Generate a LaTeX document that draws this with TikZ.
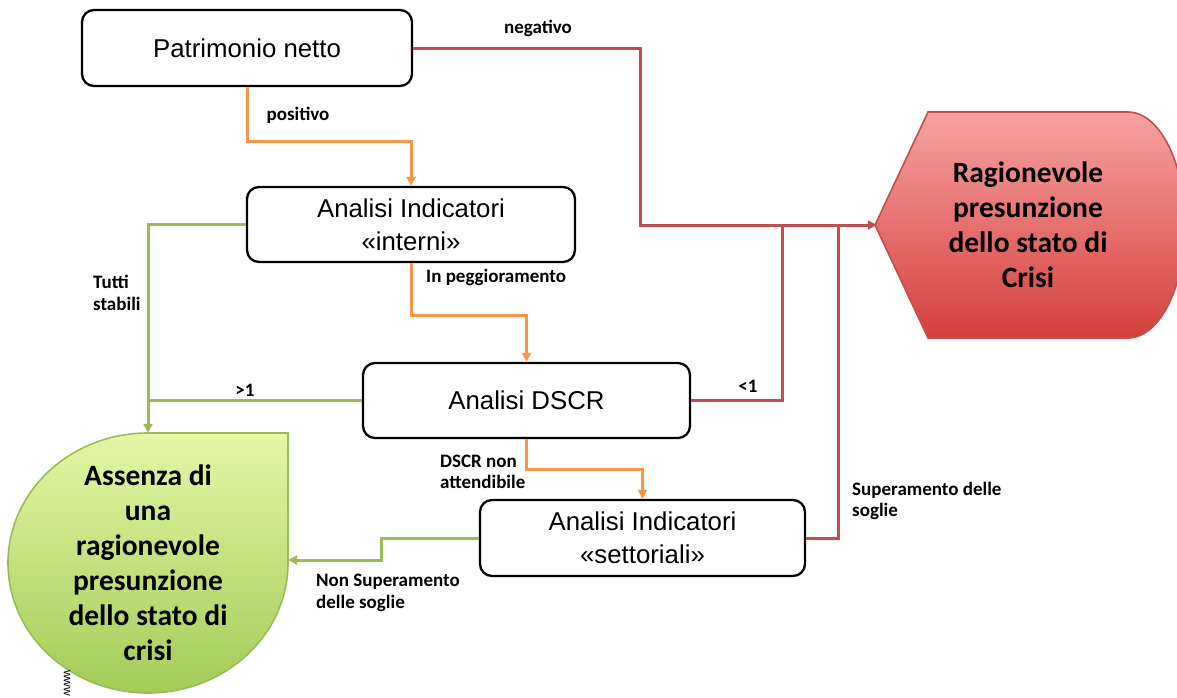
\documentclass[tikz,border=0pt]{standalone}
\usepackage{fontspec}
\setmainfont{Liberation Sans}
\newfontfamily\calf{Carlito}
\newfontfamily\arialf{Liberation Sans}
\usetikzlibrary{arrows.meta,calc}
\definecolor{orangeC}{HTML}{F79646}
\definecolor{greenC}{HTML}{9BBB59}
\definecolor{redC}{HTML}{C0504D}
\definecolor{redTop}{HTML}{F7A3A1}
\definecolor{redBot}{HTML}{D43F3C}
\definecolor{greenTop}{HTML}{E3F7A6}
\definecolor{greenBot}{HTML}{A3CC58}
\begin{document}
\begin{tikzpicture}[x=1pt,y=-1pt,
  box/.style={draw=black, line width=2.3pt, rounded corners=12pt, fill=white,
    font=\arialf\fontsize{25.8}{33}\selectfont, align=center, inner sep=0pt},
  lbl/.style={font=\calf\bfseries\fontsize{19}{21.5}\selectfont, align=left, inner sep=0pt},
  big/.style={font=\calf\bfseries\fontsize{29.5}{35}\selectfont, align=center, inner sep=0pt},
  con/.style={line width=3pt},
  tip/.style={-{Triangle[length=9pt,width=9pt]}},
  oline/.style={con, draw=orangeC},
  gline/.style={con, draw=greenC},
  rline/.style={con, draw=redC},
]
\useasboundingbox (0,0) rectangle (1177,697);

% red shape
\path[draw=redC, line width=1.6pt, top color=redTop, bottom color=redBot]
  (875,225) -- (928,112) -- (1128,112)
  arc[start angle=90, end angle=-90, x radius=57pt, y radius=113pt]
  -- (928,338) -- cycle;
\node[big, minimum width=302pt, minimum height=226pt] (crisi) at (1028,225)
  {Ragionevole\\presunzione\\dello stato di\\Crisi};

% green shape
\path[draw=greenC, line width=1.6pt, top color=greenTop, bottom color=greenBot]
  (288,433) -- (148,433)
  arc[start angle=90, end angle=360, x radius=140pt, y radius=130pt]
  -- cycle;
\node[big, minimum width=280pt, minimum height=260pt] (assenza) at (148,563)
  {Assenza di\\una\\ragionevole\\presunzione\\dello stato di\\crisi};
\node[font=\arialf\fontsize{12}{12}\selectfont, rotate=-90, inner sep=0pt] (www) at (67,683) {www};

% boxes
\node[box, minimum width=330pt, minimum height=76pt] (pn) at (247,48) {Patrimonio netto};
\node[box, minimum width=328pt, minimum height=75pt] (ai) at (411,224.5) {Analisi Indicatori\\«interni»};
\node[box, minimum width=327pt, minimum height=75pt] (dscr) at (526.5,400.5) {Analisi DSCR};
\node[box, minimum width=325pt, minimum height=76pt] (set) at (642.5,538) {Analisi Indicatori\\«settoriali»};

% junction coordinates
\coordinate (j1) at (640,225);

% orange connectors
\draw[oline, tip] (pn.south) -- ++(0,54) -| (ai.north);
\draw[oline, tip] (ai.south) -- ++(0,52) -| (dscr.north);
\draw[oline, tip] (dscr.south) -- ++(0,30) -| (set.north);

% red connectors
\draw[rline] (dscr.east) -| (782,225);
\draw[rline] (set.east) -| (838,225);
\draw[rline, tip] (pn.east) -| (j1) -- (crisi.west);

% green connectors
\draw[gline] (dscr.west) -- (dscr.west -| assenza.north);
\draw[gline, tip] (ai.west) -| (assenza.north);
\draw[gline, tip] (set.west) -- ++(-97,0) |- ([yshift=3pt]assenza.east);

% labels
\node[lbl] (lneg) at (538,28) {negativo};
\node[lbl] (lpos) at (298,115) {positivo};
\node[lbl, anchor=west] (lpeg) at (426,277) {In peggioramento};
\node[lbl, anchor=west] (ltut) at (93,293) {Tutti\\stabili};
\node[lbl] (lgt) at (245,390) {>1};
\node[lbl] (llt) at (748,386) {<1};
\node[lbl, anchor=west] (ldscr) at (440,472) {DSCR non\\attendibile};
\node[lbl, anchor=west] (lnon) at (316,593) {Non Superamento\\delle soglie};
\node[lbl, anchor=west] (lsup) at (852,501) {Superamento delle\\soglie};
\end{tikzpicture}
\end{document}
